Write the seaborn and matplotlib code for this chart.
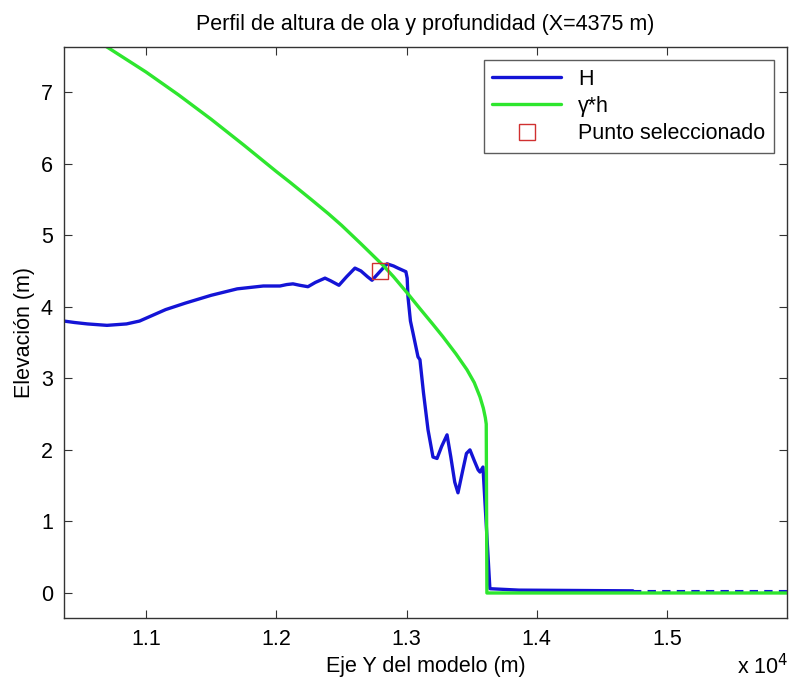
import numpy as np
import pandas as pd
import matplotlib
matplotlib.use("Agg")
import matplotlib.pyplot as plt
import seaborn as sns

# wave height H along the profile
y_h = [10370, 10450, 10550, 10700, 10850, 10950, 11050, 11150, 11300, 11500,
       11700, 11900, 12028, 12080, 12128, 12180, 12243, 12300, 12374, 12420,
       12481, 12540, 12604, 12650, 12700, 12735, 12790, 12850, 12900, 12934,
       12995, 13005, 13011, 13030, 13050, 13088, 13103, 13130, 13165, 13203,
       13234, 13270, 13311, 13340, 13370, 13395, 13430, 13460, 13487, 13520,
       13550, 13564, 13587, 13595, 13640, 13863, 14738]
h_H = [3.80, 3.78, 3.76, 3.74, 3.76, 3.80, 3.88, 3.96, 4.05, 4.16,
       4.25, 4.29, 4.29, 4.31, 4.32, 4.30, 4.28, 4.34, 4.40, 4.36,
       4.30, 4.42, 4.54, 4.50, 4.42, 4.37, 4.48, 4.60, 4.57, 4.54,
       4.49, 4.40, 4.14, 3.80, 3.63, 3.30, 3.26, 2.80, 2.28, 1.90,
       1.88, 2.05, 2.21, 1.90, 1.55, 1.40, 1.70, 1.95, 2.00, 1.85,
       1.72, 1.69, 1.76, 1.50, 0.06, 0.04, 0.03]
# tail of H (noisy, shows dashed)
y_tail = [14738, 15921]
h_tail = [0.03, 0.03]

# breaking limit gamma*h
y_g = [10370, 10700, 11000, 11250, 11500, 11750, 12000, 12105, 12274, 12400,
       12500, 12650, 12819, 12900, 13011, 13100, 13200, 13280, 13380, 13464,
       13520, 13564, 13590, 13605, 13612, 13617, 15921]
h_g = [8.02, 7.63, 7.28, 6.96, 6.62, 6.26, 5.89, 5.74, 5.49, 5.30,
       5.14, 4.88, 4.58, 4.42, 4.18, 3.98, 3.76, 3.58, 3.34, 3.12,
       2.94, 2.74, 2.58, 2.45, 2.36, 0.0, 0.0]

# selected point
sel_y = [12800]
sel_h = [4.50]

sns.set_style("ticks")
plt.rcParams["font.family"] = ["Liberation Sans", "DejaVu Sans"]
plt.rcParams["text.color"] = "black"
plt.rcParams["axes.labelcolor"] = "black"
plt.rcParams["xtick.color"] = "#333333"
plt.rcParams["ytick.color"] = "#333333"
plt.rcParams["xtick.labelcolor"] = "black"
plt.rcParams["ytick.labelcolor"] = "black"

fig = plt.figure(figsize=(7.93, 6.88), dpi=100)
ax = fig.add_axes([0.0807, 0.1017, 0.9117, 0.83])

df_H = pd.DataFrame({"y": y_h, "h": h_H})
df_g = pd.DataFrame({"y": y_g, "h": h_g})
sns.lineplot(data=df_H, x="y", y="h", color="#1414d6", lw=2.4, sort=False,
             estimator=None, ax=ax, label="H")
sns.lineplot(x=y_tail, y=h_tail, color="#1414d6", lw=1.5, sort=False,
             estimator=None, ax=ax, linestyle=(0, (4, 3)))
sns.lineplot(data=df_g, x="y", y="h", color="#2ee62e", lw=2.4, sort=False,
             estimator=None, ax=ax, label="γ*h")
ax.plot(sel_y, sel_h, "s", ms=12, mfc="none", mec="#d03030", mew=1.0,
        label="Punto seleccionado")

ax.set_xlim(10370, 15921)
ax.set_ylim(-0.35, 7.63)
ax.set_xticks([11000, 12000, 13000, 14000, 15000])
ax.set_xticklabels(["1.1", "1.2", "1.3", "1.4", "1.5"])
ax.set_yticks(range(0, 8))
ax.tick_params(direction="in", top=True, right=True, length=6, labelsize=15.5,
               width=0.8, pad=8)
for s in ax.spines.values():
    s.set_visible(True)
    s.set_linewidth(1.0)
    s.set_color("#333333")

ax.set_title("Perfil de altura de ola y profundidad (X=4375 m)", fontsize=15.5, pad=12)
ax.set_xlabel("Eje Y del modelo (m)", fontsize=15.5, labelpad=4)
ax.set_ylabel("Elevación (m)", fontsize=15.5, labelpad=4)
fig.text(0.93, 0.02, r"x 10$^{4}$", fontsize=15.5)

handles, labels = ax.get_legend_handles_labels()
keep = [i for i, l in enumerate(labels) if l in ("H", "γ*h", "Punto seleccionado")]
leg = ax.legend([handles[i] for i in keep], [labels[i] for i in keep],
                loc="upper right", fontsize=15.5, frameon=True, fancybox=False,
                handlelength=3.2, borderaxespad=0.6, labelspacing=0.3)
leg.get_frame().set_edgecolor("#333333")
leg.get_frame().set_linewidth(1.0)

fig.savefig("out.png", dpi=100)
